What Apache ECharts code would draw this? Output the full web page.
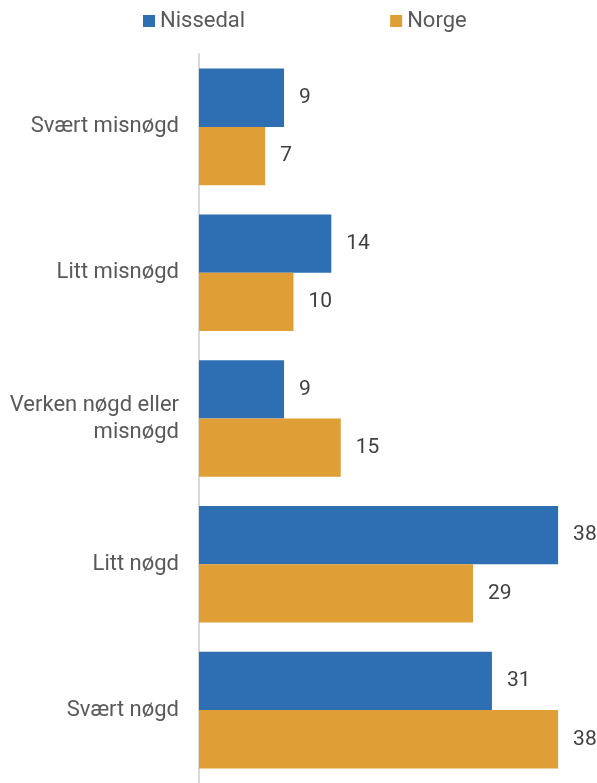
<!DOCTYPE html>
<html>
<head>
<meta charset="utf-8">
<style>
  html, body { margin: 0; padding: 0; background: #fff; }
  #chart { width: 597px; height: 783px; }
</style>
<script src="https://cdn.jsdelivr.net/npm/echarts@6/dist/echarts.min.js"></script>
</head>
<body>
<div id="chart"></div>
<script>
// Satisfaction categories, listed top to bottom
const categories = [
  'Svært misnøgd',
  'Litt misnøgd',
  'Verken nøgd eller\nmisnøgd',
  'Litt nøgd',
  'Svært nøgd'
];
const seriesNames = ['Nissedal', 'Norge'];
const nissedal = [9, 14, 9, 38, 31];
const norge = [7, 10, 15, 29, 38];

const FONT = 'Roboto, "Noto Sans", sans-serif';
const chart = echarts.init(document.getElementById('chart'), null, { renderer: 'canvas' });

const labelStyle = {
  show: true,
  position: 'right',
  distance: 15,
  color: '#404040',
  fontFamily: FONT,
  fontSize: 21
};

chart.setOption({
  animation: false,
  backgroundColor: '#ffffff',
  legend: {
    data: seriesNames,
    top: 10,
    left: 143,
    padding: 0,
    itemGap: 145,
    itemWidth: 12,
    itemHeight: 12,
    icon: 'rect',
    textStyle: { color: '#595959', fontFamily: FONT, fontSize: 22 }
  },
  grid: { left: 199, top: 54, width: 378, height: 735, containLabel: false },
  xAxis: {
    type: 'value',
    min: 0,
    max: 40,
    show: false
  },
  yAxis: {
    type: 'category',
    inverse: true,
    data: categories,
    axisLine: { show: true, lineStyle: { color: '#d9d9d9', width: 2 } },
    axisTick: { show: false },
    axisLabel: {
      margin: 20,
      color: '#595959',
      fontFamily: FONT,
      fontSize: 22,
      lineHeight: 27,
      align: 'right',
      padding: [8, 0, 0, 0]
    }
  },
  series: [
    {
      name: seriesNames[0],
      type: 'bar',
      data: nissedal,
      itemStyle: { color: '#2e6fb4' },
      barGap: '0%',
      barCategoryGap: '20%',
      label: labelStyle
    },
    {
      name: seriesNames[1],
      type: 'bar',
      data: norge,
      itemStyle: { color: '#e09e36' },
      barGap: '0%',
      barCategoryGap: '20%',
      label: labelStyle
    }
  ]
});
</script>
</body>
</html>
